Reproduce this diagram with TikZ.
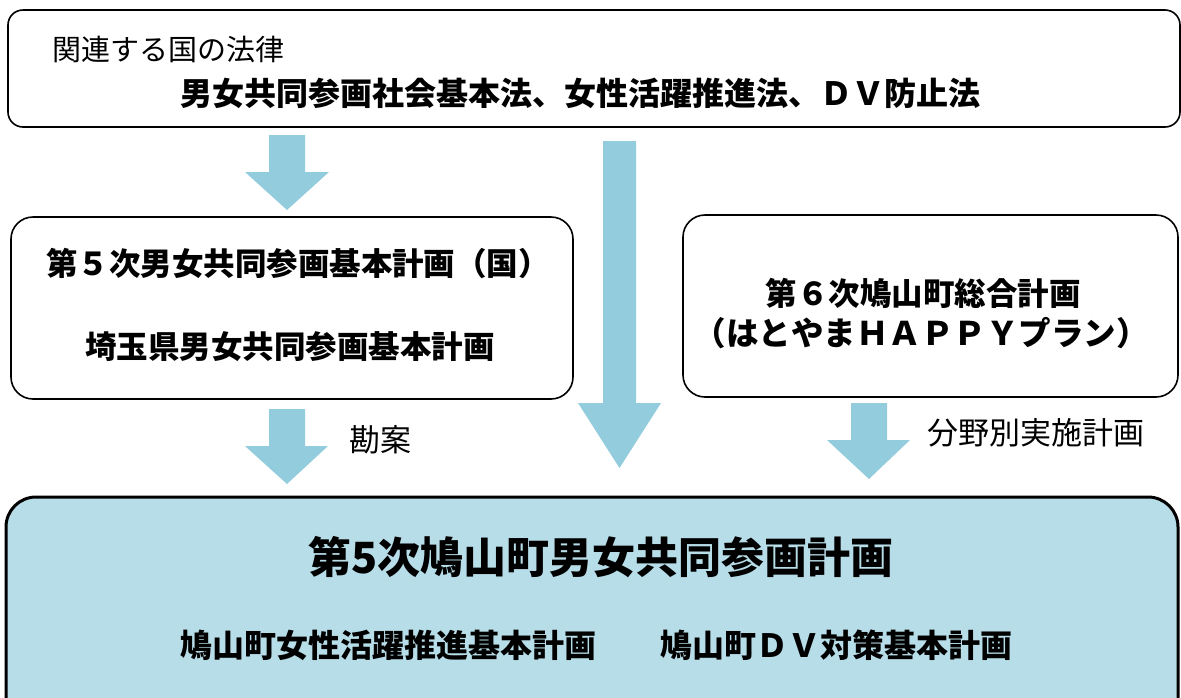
\documentclass[tikz,border=0pt]{standalone}
\usepackage{fontspec}
\setmainfont{Noto Sans CJK JP}
\definecolor{arrowblue}{HTML}{93CDDD}
\definecolor{mainfill}{HTML}{B7DDE8}
\tikzset{
  box/.style={draw=black, line width=1.6pt, rounded corners=#1, inner sep=0pt},
  bigbox/.style={draw=black, line width=3pt, fill=mainfill, rounded corners=30pt, inner sep=0pt},
  txt/.style={inner sep=0pt, text=black},
  fatarrow/.style={fill=arrowblue, draw=none},
}
\newcommand{\fs}[1]{\fontsize{#1pt}{#1pt}\selectfont}
\begin{document}
\begin{tikzpicture}[x=1pt,y=-1pt]
\useasboundingbox (0,0) rectangle (1181,697);
\clip (0,0) rectangle (1181,697);
\fill[white] (0,0) rectangle (1181,697);
% boxes
\node[box=15pt, minimum width=1172pt, minimum height=117pt] (top) at (594,68.5) {};
\node[box=22pt, minimum width=562pt, minimum height=182pt] (left) at (292,308) {};
\node[box=22pt, minimum width=495pt, minimum height=182pt] (right) at (930.5,306) {};
\node[bigbox, minimum width=1172pt, minimum height=243pt] (main) at (592,618.5) {};
% arrows
\fill[fatarrow] (269,135) -- (305,135) -- (305,172) -- (329,172) -- (287,210) -- (245,172) -- (269,172) -- cycle;
\fill[fatarrow] (603,141) -- (636,141) -- (636,403) -- (661,403) -- (619.5,468) -- (578,403) -- (603,403) -- cycle;
\fill[fatarrow] (269,409) -- (305,409) -- (305,446) -- (328,446) -- (287,484) -- (245,446) -- (269,446) -- cycle;
\fill[fatarrow] (851,403) -- (887,403) -- (887,440) -- (910,440) -- (869,479) -- (827,440) -- (851,440) -- cycle;
% texts
\node[txt, anchor=west] (t1) at (52,50) {\fs{29}関連する国の法律};
\node[txt, anchor=west] (t2) at (180,93) {\fs{32}\bfseries 男女共同参画社会基本法、女性活躍推進法、ＤＶ防止法};
\node[txt] (l1) at (298,263) {\fs{31.5}\bfseries 第５次男女共同参画基本計画（国）};
\node[txt] (l2) at (290,347) {\fs{31.5}\bfseries 埼玉県男女共同参画基本計画};
\node[txt] (r1) at (923,293) {\fs{31.5}\bfseries 第６次鳩山町総合計画};
\node[txt] (r2) at (921,333) {\fs{32.5}\bfseries （はとやまＨＡＰＰＹプラン）};
\node[txt, anchor=west] (kan) at (349,440) {\fs{31}勘案};
\node[txt, anchor=west] (bun) at (927,433) {\fs{31}分野別実施計画};
\node[txt] (title) at (601,557) {\fs{43}\bfseries 第5次鳩山町男女共同参画計画};
\node[txt, anchor=west] (s1) at (180,645) {\fs{32}\bfseries 鳩山町女性活躍推進基本計画};
\node[txt, anchor=west] (s2) at (660,645) {\fs{32}\bfseries 鳩山町ＤＶ対策基本計画};
\end{tikzpicture}
\end{document}
